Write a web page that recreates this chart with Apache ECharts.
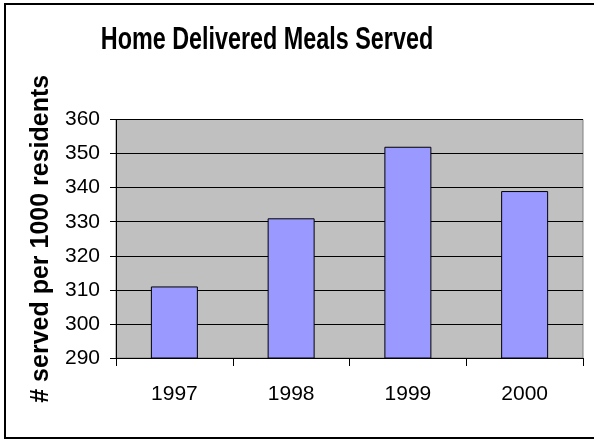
<!DOCTYPE html>
<html>
<head>
<meta charset="utf-8">
<script src="https://cdn.jsdelivr.net/npm/echarts@6/dist/echarts.min.js"></script>
<style>
    html, body { margin: 0; padding: 0; background: #fff; }
    #chart { width: 594px; height: 440px; }
</style>
</head>
<body>
<div id="chart"></div>
<script>
    var years = ['1997', '1998', '1999', '2000'];
    var mealsServed = [311, 331, 352, 339];
    var yMin = 290, yMax = 360, yStep = 10;

    var chart = echarts.init(document.getElementById('chart'));

    var option = {
        animation: false,
        backgroundColor: '#ffffff',
        graphic: [
            {
                // outer frame, right edge is cut off in the original
                type: 'polyline',
                shape: { points: [[594, 4], [5, 4], [5, 438], [594, 438]] },
                style: { stroke: '#000', lineWidth: 2, fill: null }
            },
            {
                // title, horizontally squeezed like the original
                type: 'text',
                x: 267,
                y: 40,
                scaleX: 0.73,
                style: {
                    text: 'Home Delivered Meals Served',
                    font: 'bold 32px "Liberation Sans", Arial, sans-serif',
                    fill: '#000',
                    align: 'center',
                    verticalAlign: 'middle'
                }
            }
        ],
        grid: {
            left: 116,
            right: 11,
            top: 119.5,
            bottom: 82,
            show: true,
            backgroundColor: '#C0C0C0',
            borderColor: '#808080',
            borderWidth: 1
        },
        xAxis: {
            type: 'category',
            data: years,
            axisLine: { lineStyle: { color: '#000', width: 1 } },
            axisTick: { show: true, length: 8, lineStyle: { color: '#000' } },
            axisLabel: {
                margin: 26,
                fontFamily: '"Liberation Sans", Arial, sans-serif',
                fontSize: 21,
                color: '#000'
            }
        },
        yAxis: {
            type: 'value',
            min: yMin,
            max: yMax,
            interval: yStep,
            name: '# served per 1000 residents',
            nameLocation: 'middle',
            nameRotate: 90,
            nameGap: 62,
            nameTextStyle: {
                fontFamily: '"Liberation Sans", Arial, sans-serif',
                fontSize: 25,
                fontWeight: 'bold',
                color: '#000'
            },
            axisLine: { show: true, lineStyle: { color: '#000', width: 1 } },
            axisTick: { show: true, length: 6, lineStyle: { color: '#000' } },
            axisLabel: {
                margin: 16,
                fontFamily: '"Liberation Sans", Arial, sans-serif',
                fontSize: 21,
                color: '#000'
            },
            splitLine: { show: true, lineStyle: { color: '#000', width: 1 } }
        },
        series: [
            {
                type: 'bar',
                data: mealsServed,
                barWidth: 47,
                itemStyle: {
                    color: '#9999FF',
                    borderColor: '#000',
                    borderWidth: 1
                }
            }
        ]
    };

    chart.setOption(option);
</script>
</body>
</html>
